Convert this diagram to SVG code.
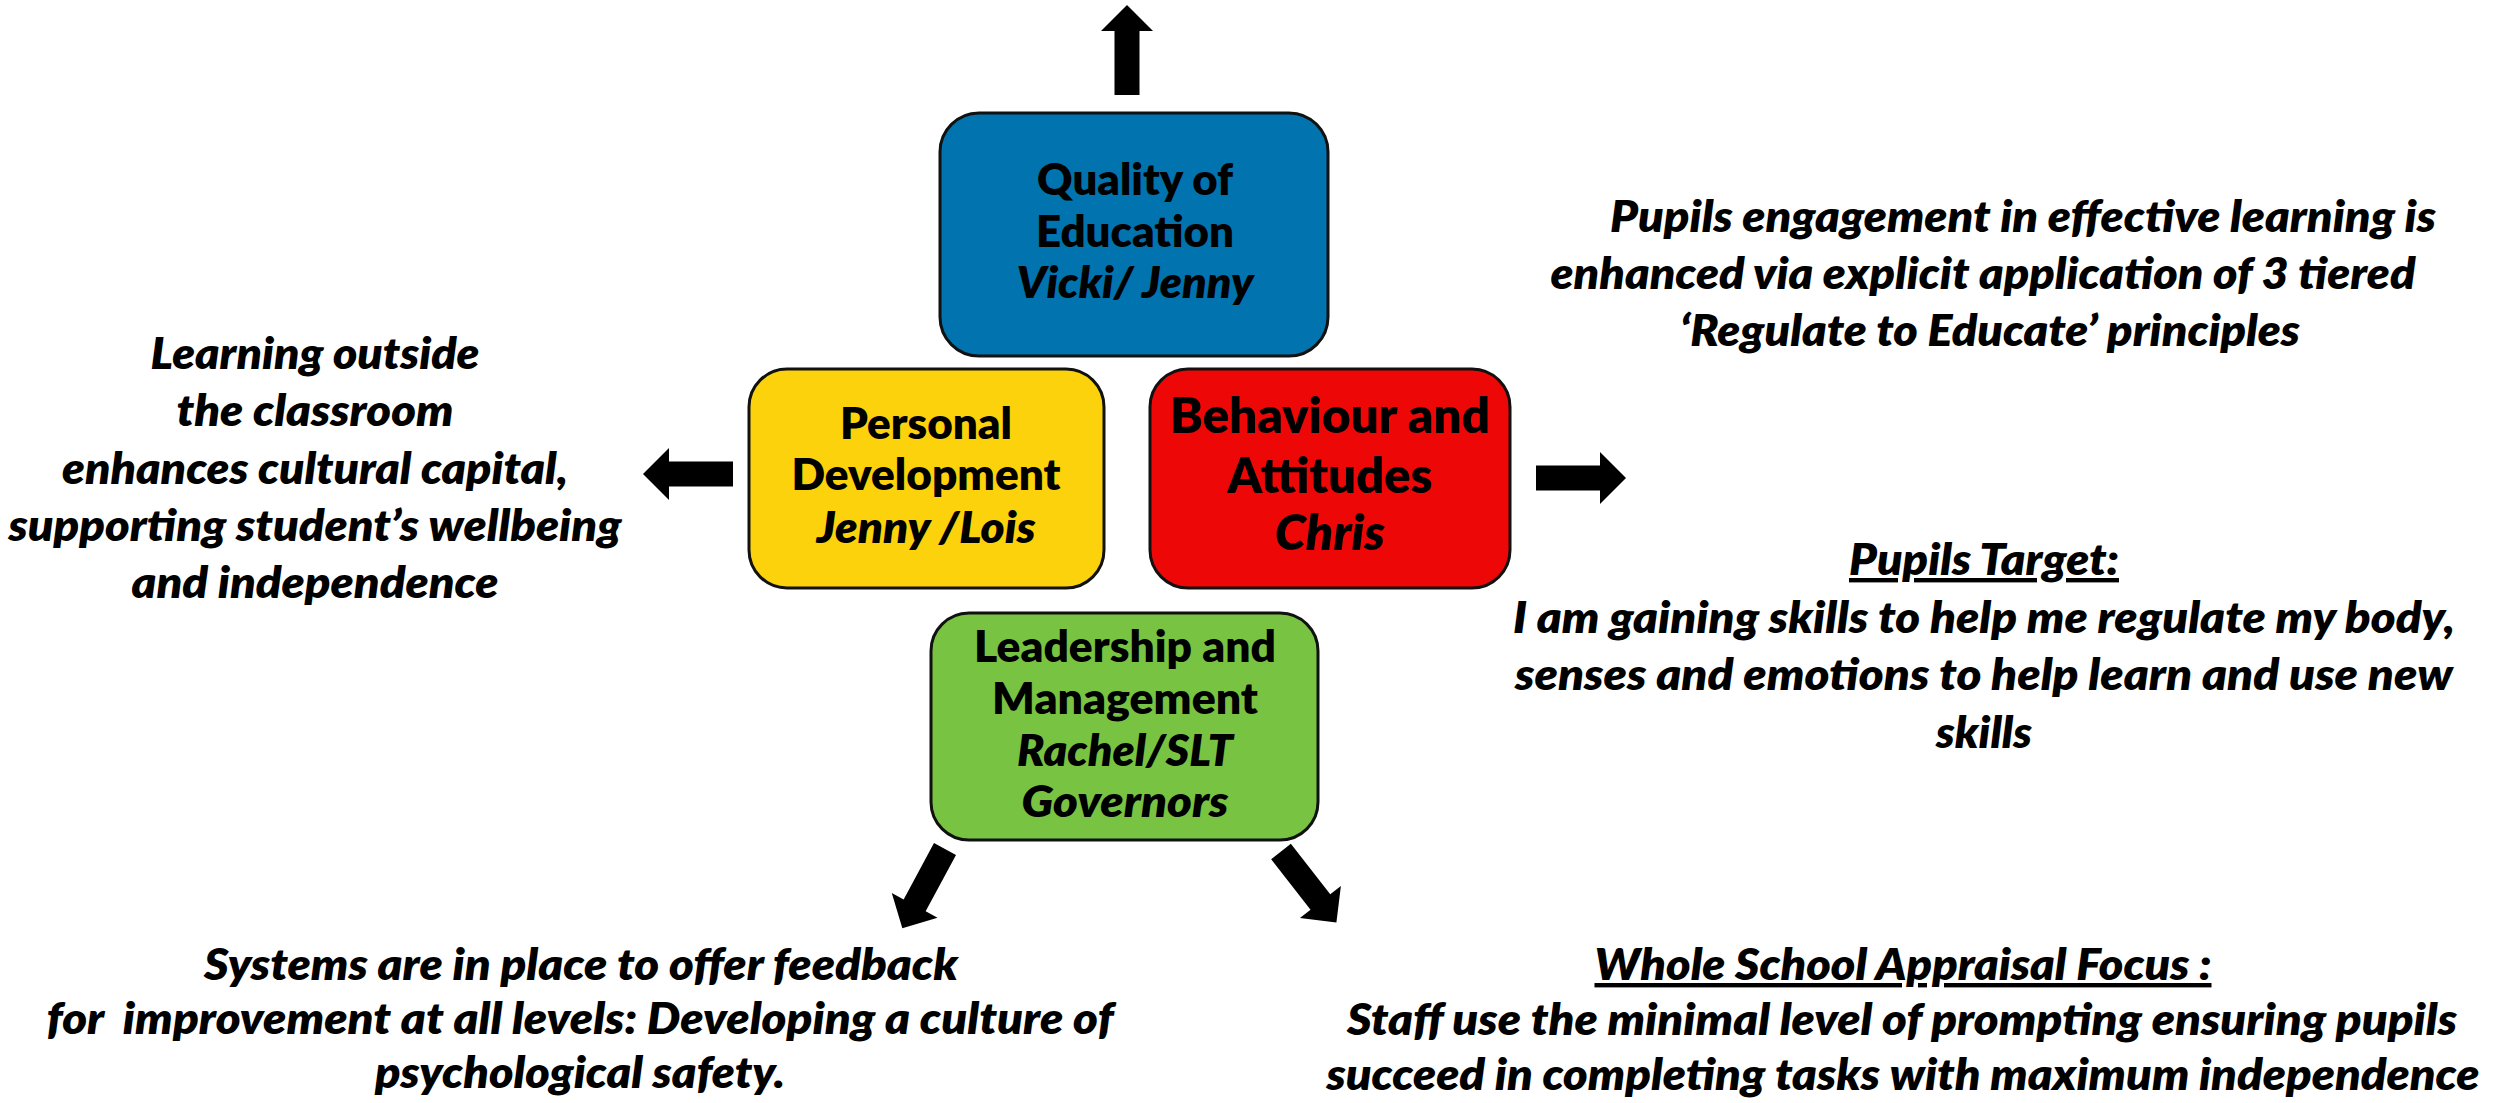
<svg xmlns="http://www.w3.org/2000/svg" xmlns:xlink="http://www.w3.org/1999/xlink" width="2503" height="1103" viewBox="0 0 2503 1103">
<style>
text{font-family:Lato,"Liberation Sans",sans-serif;font-weight:800;fill:#000;text-anchor:middle;}
.n{font-size:44px;}
.nb{font-size:48.5px;}
.i{font-style:italic;}
.o{font-size:44px;font-style:italic;}
.u{text-decoration:underline;}
.box{stroke:#111;stroke-width:3;}
.arr{fill:#000;}
</style>
<defs>
<path id="arrow" d="M0,-12.5 H64 V-26 L90,0 L64,26 V12.5 H0 Z"/>
</defs>
<rect width="2503" height="1103" fill="#fff"/>
<g id="connectors" class="arr">
<use xlink:href="#arrow" href="#arrow" transform="translate(1127,95) rotate(-90)"/>
<use xlink:href="#arrow" href="#arrow" transform="translate(1536,478)"/>
<use xlink:href="#arrow" href="#arrow" transform="translate(733,474) rotate(180)"/>
<use xlink:href="#arrow" href="#arrow" transform="translate(945,849) rotate(118.3)"/>
<use xlink:href="#arrow" href="#arrow" transform="translate(1281,851.5) rotate(52)"/>
</g>
<g id="quality">
<rect class="box" x="940" y="113" width="388" height="243" rx="39" fill="#0173AE"/>
<text class="n" x="1135" y="195" textLength="196" lengthAdjust="spacingAndGlyphs">Quality of</text>
<text class="n" x="1135" y="247" textLength="198" lengthAdjust="spacingAndGlyphs">Education</text>
<text class="n i" x="1135" y="298" textLength="237" lengthAdjust="spacingAndGlyphs">Vicki/ Jenny</text>
</g>
<g id="personal">
<rect class="box" x="749" y="369" width="355" height="219" rx="38" fill="#FBD20B"/>
<text class="n" x="926" y="439" textLength="172" lengthAdjust="spacingAndGlyphs">Personal</text>
<text class="n" x="926" y="490" textLength="269" lengthAdjust="spacingAndGlyphs">Development</text>
<text class="n i" x="926" y="543" textLength="219" lengthAdjust="spacingAndGlyphs">Jenny /Lois</text>
</g>
<g id="behaviour">
<rect class="box" x="1150" y="369" width="360" height="219" rx="38" fill="#EE0707"/>
<text class="nb" x="1330" y="433" textLength="320" lengthAdjust="spacingAndGlyphs">Behaviour and</text>
<text class="nb" x="1330" y="493" textLength="205" lengthAdjust="spacingAndGlyphs">Attitudes</text>
<text class="nb i" x="1330" y="550" textLength="110" lengthAdjust="spacingAndGlyphs">Chris</text>
</g>
<g id="leadership">
<rect class="box" x="931" y="613" width="387" height="227" rx="38" fill="#78C442"/>
<text class="n" x="1125" y="662" textLength="302" lengthAdjust="spacingAndGlyphs">Leadership and</text>
<text class="n" x="1125" y="714" textLength="266" lengthAdjust="spacingAndGlyphs">Management</text>
<text class="n i" x="1125" y="766" textLength="216" lengthAdjust="spacingAndGlyphs">Rachel/SLT</text>
<text class="n i" x="1125" y="817" textLength="207" lengthAdjust="spacingAndGlyphs">Governors</text>
</g>
<g id="learning-outside">
<text class="o" x="315" y="369" textLength="329" lengthAdjust="spacingAndGlyphs">Learning outside</text>
<text class="o" x="315" y="426" textLength="277" lengthAdjust="spacingAndGlyphs">the classroom</text>
<text class="o" x="315" y="484" textLength="506" lengthAdjust="spacingAndGlyphs">enhances cultural capital,</text>
<text class="o" x="315" y="541" textLength="613" lengthAdjust="spacingAndGlyphs">supporting student’s wellbeing</text>
<text class="o" x="315" y="598" textLength="367" lengthAdjust="spacingAndGlyphs">and independence</text>
</g>
<g id="pupils-engagement">
<text class="o" x="2023" y="232" textLength="826" lengthAdjust="spacingAndGlyphs">Pupils engagement in effective learning is</text>
<text class="o" x="1983" y="289" textLength="865" lengthAdjust="spacingAndGlyphs">enhanced via explicit application of 3 tiered</text>
<text class="o" x="1990" y="346" textLength="620" lengthAdjust="spacingAndGlyphs">‘Regulate to Educate’ principles</text>
</g>
<g id="pupils-target">
<text class="o u" x="1984" y="575" textLength="270" lengthAdjust="spacingAndGlyphs">Pupils Target:</text>
<text class="o" x="1984" y="633" textLength="942" lengthAdjust="spacingAndGlyphs">I am gaining skills to help me regulate my body,</text>
<text class="o" x="1984" y="690" textLength="938" lengthAdjust="spacingAndGlyphs">senses and emotions to help learn and use new</text>
<text class="o" x="1984" y="748" textLength="96" lengthAdjust="spacingAndGlyphs">skills</text>
</g>
<g id="systems">
<text class="o" x="581" y="980" textLength="754" lengthAdjust="spacingAndGlyphs">Systems are in place to offer feedback</text>
<text class="o" x="580" y="1034" textLength="1067" lengthAdjust="spacingAndGlyphs" xml:space="preserve">for  improvement at all levels: Developing a culture of</text>
<text class="o" x="580" y="1088" textLength="410" lengthAdjust="spacingAndGlyphs">psychological safety.</text>
</g>
<g id="appraisal">
<text class="o u" x="1903" y="980" textLength="617" lengthAdjust="spacingAndGlyphs">Whole School Appraisal Focus :</text>
<text class="o" x="1902" y="1035" textLength="1110" lengthAdjust="spacingAndGlyphs">Staff use the minimal level of prompting ensuring pupils</text>
<text class="o" x="1903" y="1090" textLength="1153" lengthAdjust="spacingAndGlyphs">succeed in completing tasks with maximum independence</text>
</g>
</svg>
